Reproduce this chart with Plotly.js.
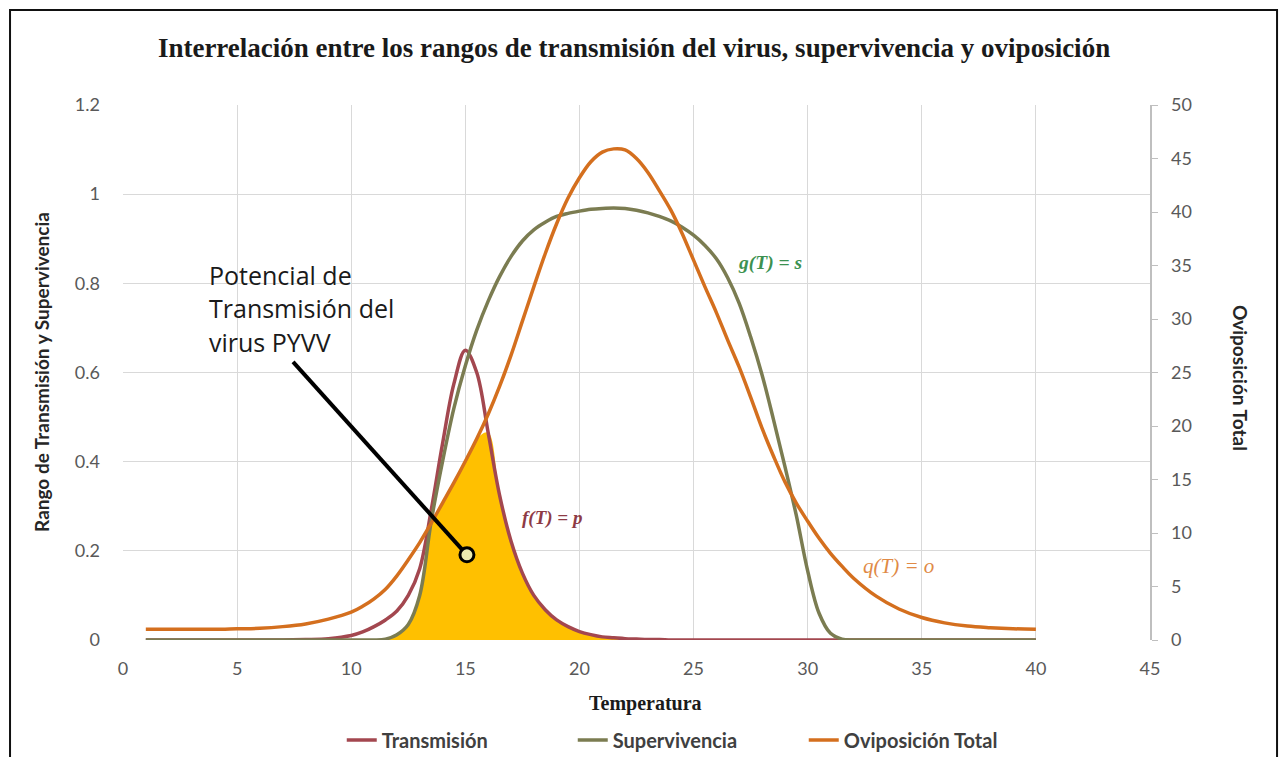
<!DOCTYPE html>
<html>
<head>
<meta charset="utf-8">
<script src="https://cdn.plot.ly/plotly-3.0.1.min.js"></script>
<style>html,body{margin:0;padding:0;background:#fff;}#chart{width:1280px;height:757px;}</style>
</head>
<body>
<div id="chart"></div>
<script>
// Temperature grid (x values)
const temps = [1,2,3,4,5,6,7,8,9,10,10.5,11,11.5,12,12.5,13,13.5,14,14.5,15,15.5,16,16.5,17,17.5,18,18.5,19,19.5,20,20.5,21,21.5,22,22.5,23,23.5,24,24.5,25,25.5,26,26.5,27,27.5,28,28.5,29,29.5,30,30.5,31,31.5,32,33,34,35,36,37,38,39,40];

// Transmisión f(T) = p  (left axis)
const transmision = [0,0,0,0,0,0,0,0.001,0.003,0.01,0.018,0.03,0.045,0.065,0.1,0.16,0.29,0.44,0.575,0.65,0.6,0.465,0.325,0.222,0.15,0.1,0.068,0.045,0.03,0.019,0.012,0.007,0.005,0.003,0.002,0.001,0.001,0,0,0,0,0,0,0,0,0,0,0,0,0,0,0,0,0,0,0,0,0,0,0,0,0];

// Supervivencia g(T) = s  (left axis)
const supervivencia = [0,0,0,0,0,0,0,0,0,0,0,0,0.002,0.012,0.035,0.1,0.265,0.4,0.52,0.615,0.695,0.76,0.815,0.86,0.895,0.92,0.937,0.95,0.957,0.962,0.966,0.968,0.969,0.968,0.964,0.958,0.95,0.94,0.926,0.908,0.885,0.855,0.812,0.755,0.68,0.595,0.495,0.39,0.28,0.155,0.06,0.015,0.002,0,0,0,0,0,0,0,0,0];

// Oviposición Total q(T) = o  (right axis)
const oviposicion = [1.0,1.0,1.0,1.0,1.05,1.1,1.25,1.5,1.95,2.6,3.15,3.85,4.75,6.0,7.5,9.1,10.9,12.8,14.7,16.7,18.8,21.1,23.7,26.6,29.8,33.0,36.1,38.9,41.3,43.2,44.7,45.6,45.9,45.8,45.0,43.7,42.0,40.2,38.0,35.5,33.0,30.6,28.0,25.5,22.7,19.8,17.2,14.8,12.8,11.1,9.5,8.1,6.9,5.8,4.1,2.9,2.1,1.6,1.3,1.15,1.05,1.0];

const seriesNames = ["Transmisión", "Supervivencia", "Oviposición Total"];
const leftRange = [0, 1.2];
const rightRange = [0, 50];

// Shaded "potencial de transmisión": area under the lowest of the three curves
const scale = leftRange[1] / rightRange[1];
const potencial = temps.map((t, i) => Math.min(transmision[i], supervivencia[i], oviposicion[i] * scale));

// Pointer of the "Potencial de Transmisión" label (data coordinates)
const pointerFrom = [7.45, 0.624];
const pointerTo = [15.07, 0.191];

const sans = "Lato, 'Open Sans', sans-serif";
const serif = "'Liberation Serif', 'DejaVu Serif', serif";
const labelFont = "'Open Sans', sans-serif";

const traces = [
  {x: temps, y: potencial, type: 'scatter', mode: 'lines', fill: 'tozeroy',
   fillcolor: '#FFC000', line: {width: 0, shape: 'spline', smoothing: 1, color: '#FFC000'},
   showlegend: false, hoverinfo: 'skip'},
  {x: temps, y: transmision, name: seriesNames[0], type: 'scatter', mode: 'lines',
   line: {color: '#A3474F', width: 3.5, shape: 'spline', smoothing: 1}},
  {x: temps, y: supervivencia, name: seriesNames[1], type: 'scatter', mode: 'lines',
   line: {color: '#7B7C51', width: 3.5, shape: 'spline', smoothing: 1}},
  {x: temps, y: oviposicion, name: seriesNames[2], type: 'scatter', mode: 'lines', yaxis: 'y2',
   line: {color: '#D46F1E', width: 3.5, shape: 'spline', smoothing: 1}}
];

const tickFont = {size: 18, color: '#595959', family: sans};

const layout = {
  width: 1280, height: 757,
  margin: {l: 123, r: 130, t: 105, b: 117, autoexpand: false},
  paper_bgcolor: '#ffffff', plot_bgcolor: '#ffffff',
  font: {family: sans, color: '#595959'},
  title: {text: '<b>Interrelación entre los rangos de transmisión del virus, supervivencia y oviposición</b>',
          font: {family: serif, size: 27, color: '#1a1a1a'},
          xref: 'paper', x: 0.4976, xanchor: 'center', yref: 'container', y: 0.9366, yanchor: 'middle'},
  xaxis: {range: [0, 45], dtick: 5, tick0: 0, showgrid: true, gridcolor: '#D9D9D9', gridwidth: 1,
          zeroline: false, showline: false, ticks: '', ticklabelstandoff: 16, automargin: false,
          tickfont: tickFont},
  yaxis: {range: leftRange, dtick: 0.2, tick0: 0, showgrid: true, gridcolor: '#D9D9D9', gridwidth: 1,
          zeroline: false, showline: false, ticks: '', ticklabelstandoff: 22, automargin: false,
          tickfont: tickFont},
  yaxis2: {range: rightRange, dtick: 5, tick0: 0, overlaying: 'y', side: 'right', showgrid: false,
           zeroline: false, showline: true, linecolor: '#BFBFBF', linewidth: 1.5, automargin: false,
           ticks: 'outside', ticklen: 6, tickcolor: '#BFBFBF', ticklabelstandoff: 10,
           tickfont: tickFont},
  showlegend: true,
  legend: {orientation: 'h', x: 0.213, xanchor: 'left', y: -0.187, yanchor: 'middle',
           font: {family: sans, size: 20, color: '#404040', weight: 'bold'},
           entrywidth: 186, entrywidthmode: 'pixels', bgcolor: 'rgba(0,0,0,0)'},
  shapes: [
    {type: 'rect', xref: 'paper', yref: 'paper', x0: -0.110, x1: 1.1237, y0: -0.26, y1: 1.1776,
     line: {color: '#111111', width: 2}, fillcolor: 'rgba(0,0,0,0)', layer: 'above'},
    {type: 'line', xref: 'x', yref: 'y', x0: pointerFrom[0], y0: pointerFrom[1], x1: pointerTo[0], y1: pointerTo[1],
     line: {color: '#000000', width: 4}},
    {type: 'circle', xref: 'x', yref: 'y', xsizemode: 'pixel', ysizemode: 'pixel',
     xanchor: pointerTo[0], yanchor: pointerTo[1], x0: -7, x1: 7, y0: -7, y1: 7,
     line: {color: '#000000', width: 3}, fillcolor: '#EDEBB0'}
  ],
  annotations: [
    {text: '<b>Rango de Transmisión y Supervivencia</b>', xref: 'paper', yref: 'paper', x: -0.0789, y: 0.501,
     xanchor: 'center', yanchor: 'middle',
     textangle: -90, showarrow: false, font: {family: sans, size: 19, color: '#262626'}},
    {text: '<b>Oviposición Total</b>', xref: 'paper', yref: 'paper', x: 1.0876, y: 0.49,
     xanchor: 'center', yanchor: 'middle',
     textangle: 90, showarrow: false, font: {family: sans, size: 19, color: '#262626'}},
    {text: '<b>Temperatura</b>', xref: 'paper', yref: 'paper', x: 0.509, y: -0.1178,
     xanchor: 'center', yanchor: 'middle',
     showarrow: false, font: {family: serif, size: 20, color: '#1a1a1a'}},
    {text: 'Potencial de', xref: 'x', yref: 'y', x: 3.68, y: 0.8187, xanchor: 'left', yanchor: 'middle',
     showarrow: false, font: {family: labelFont, size: 25, color: '#1a1a1a'}},
    {text: 'Transmisión del', xref: 'x', yref: 'y', x: 3.68, y: 0.7447, xanchor: 'left', yanchor: 'middle',
     showarrow: false, font: {family: labelFont, size: 25, color: '#1a1a1a'}},
    {text: 'virus PYVV', xref: 'x', yref: 'y', x: 3.68, y: 0.6684, xanchor: 'left', yanchor: 'middle',
     showarrow: false, font: {family: labelFont, size: 25, color: '#1a1a1a'}},
    {text: '<b><i>f(T) = p</i></b>', xref: 'x', yref: 'y', x: 18.8, y: 0.274, showarrow: false,
     font: {family: serif, size: 19, color: '#8E3B46'}},
    {text: '<b><i>g(T) = s</i></b>', xref: 'x', yref: 'y', x: 28.35, y: 0.846, showarrow: false,
     font: {family: serif, size: 19.5, color: '#3C9150'}},
    {text: '<i>q(T) = o</i>', xref: 'x', yref: 'y', x: 33.96, y: 0.166, showarrow: false,
     font: {family: serif, size: 21, color: '#E08A46'}}
  ]
};

Plotly.newPlot('chart', traces, layout, {displayModeBar: false, staticPlot: true});
</script>
</body>
</html>
